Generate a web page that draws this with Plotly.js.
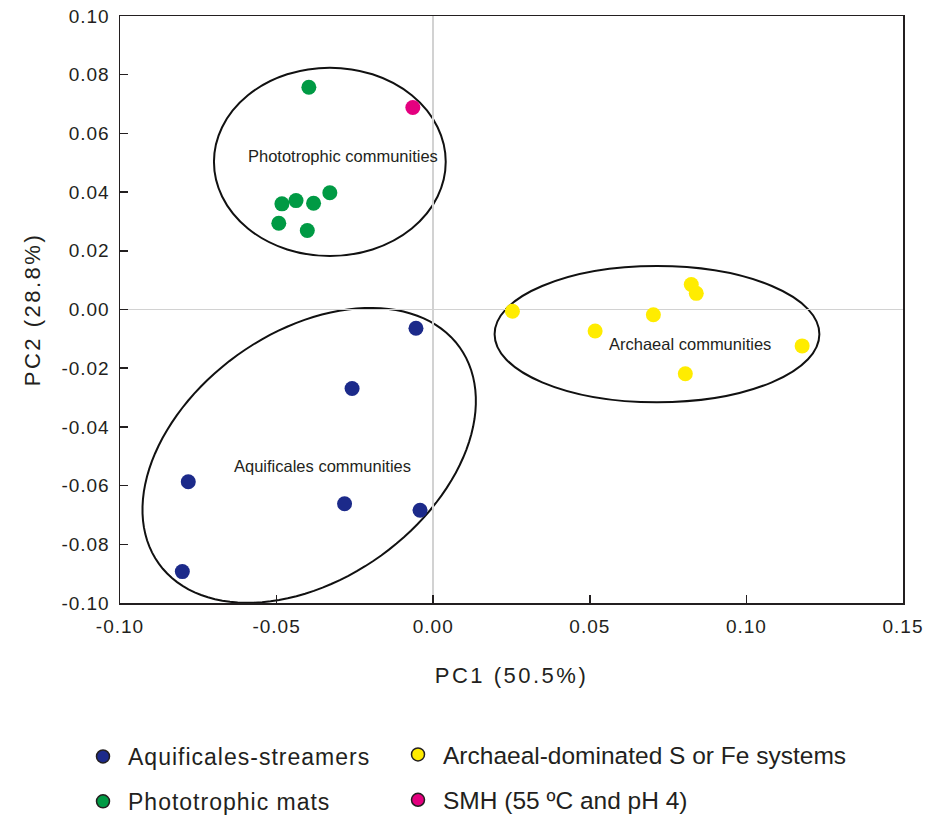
<!DOCTYPE html>
<html>
<head>
<meta charset="utf-8">
<script src="https://cdn.plot.ly/plotly-3.0.1.min.js"></script>
<style>
  html, body { margin: 0; padding: 0; background: #fff; }
  #chart { width: 935px; height: 824px; }
  .xtick text, .ytick text { letter-spacing: 1px; }
  .xtitle, .ytitle { letter-spacing: 2.5px; }
  .legendtext { letter-spacing: 1px; }
</style>
</head>
<body>
<div id="chart"></div>
<script>
// ---- Data ----
const aquX = [-0.0055, -0.0259, -0.0782, -0.0283, -0.0042, -0.0801];
const aquY = [-0.0064, -0.0269, -0.0587, -0.0662, -0.0684, -0.0893];

const archX = [0.0253, 0.0517, 0.0703, 0.0824, 0.0840, 0.1178, 0.0805];
const archY = [-0.0006, -0.0073, -0.0018, 0.0085, 0.0055, -0.0124, -0.0219];

const photoX = [-0.0397, -0.0483, -0.0438, -0.0382, -0.0330, -0.0493, -0.0402];
const photoY = [0.0757, 0.0360, 0.0371, 0.0362, 0.0398, 0.0294, 0.0269];

const smhX = [-0.0065];
const smhY = [0.0688];

const seriesNames = ['Aquificales-streamers', 'Archaeal-dominated S or Fe systems', 'Phototrophic mats', 'SMH (55 ºC and pH 4)'];
const seriesColors = ['#1c2a8a', '#ffec00', '#009a44', '#e4007f'];

const xTickVals = [-0.10, -0.05, 0.00, 0.05, 0.10, 0.15];
const xTickText = ['-0.10', '-0.05', '0.00', '0.05', '0.10', '0.15'];
const yTickVals = [-0.10, -0.08, -0.06, -0.04, -0.02, 0.00, 0.02, 0.04, 0.06, 0.08, 0.10];
const yTickText = ['-0.10', '-0.08', '-0.06', '-0.04', '-0.02', '0.00', '0.02', '0.04', '0.06', '0.08', '0.10'];

// Group ellipses (axis-aligned boxes) and labels
const photoEllipse = [-0.0700, 0.0182, 0.0040, 0.0824];   // x0, y0, x1, y1
const archEllipse  = [0.0196, -0.0316, 0.1233, 0.0148];
// tilted ellipse: centre, conjugate half-axis vectors (data units)
const aquCenter = [-0.0396, -0.0497];
const aquU = [0.0480, 0.0369];
const aquV = [-0.0230, 0.0341];

const labelTexts = ['Phototrophic communities', 'Archaeal communities', 'Aquificales communities'];
const labelX = [-0.0288, 0.0820, -0.0353];
const labelY = [0.0523, -0.0117, -0.0532];

// ---- Build chart ----
const FONT = 'Liberation Sans, Arial, Helvetica, sans-serif';
const INK = '#231f20';

const plotSeries = [[aquX, aquY], [archX, archY], [photoX, photoY], [smhX, smhY]];
const traces = [];
plotSeries.forEach((s, i) => {
  traces.push({
    type: 'scatter', mode: 'markers', x: s[0], y: s[1],
    marker: { size: 15, color: seriesColors[i], line: { width: 0 } },
    showlegend: false, hoverinfo: 'x+y', name: seriesNames[i]
  });
});
// legend entries (outlined symbols as in the reference)
const legendOf = ['legend', 'legend2', 'legend', 'legend2'];
seriesNames.forEach((n, i) => {
  traces.push({
    type: 'scatter', mode: 'markers', x: [null], y: [null],
    name: n, legend: legendOf[i], legendgroup: 'g' + i,
    marker: { size: 13, color: seriesColors[i], line: { width: 1.5, color: INK } }
  });
});

function ellipsePath(c, u, v) {
  let p = '';
  const n = 120;
  for (let k = 0; k <= n; k++) {
    const t = 2 * Math.PI * k / n;
    const x = c[0] + u[0] * Math.cos(t) + v[0] * Math.sin(t);
    const y = c[1] + u[1] * Math.cos(t) + v[1] * Math.sin(t);
    p += (k === 0 ? 'M' : 'L') + x + ',' + y;
  }
  return p + 'Z';
}

const lineStyle = { color: '#111', width: 2 };
const shapes = [
  { type: 'circle', xref: 'x', yref: 'y', x0: photoEllipse[0], y0: photoEllipse[1], x1: photoEllipse[2], y1: photoEllipse[3], line: lineStyle, layer: 'below' },
  { type: 'circle', xref: 'x', yref: 'y', x0: archEllipse[0], y0: archEllipse[1], x1: archEllipse[2], y1: archEllipse[3], line: lineStyle, layer: 'below' },
  { type: 'path', xref: 'x', yref: 'y', path: ellipsePath(aquCenter, aquU, aquV), line: lineStyle, layer: 'below' }
];

const annotations = labelTexts.map((t, i) => ({
  x: labelX[i], y: labelY[i], xref: 'x', yref: 'y', text: t, showarrow: false,
  font: { family: FONT, size: 16.5, color: INK }
}));

const axisCommon = {
  showgrid: false, zeroline: true, zerolinecolor: '#d2d2d2', zerolinewidth: 1.5,
  showline: true, mirror: true, linecolor: INK, linewidth: 1.5,
  ticks: 'inside', ticklen: 8, tickwidth: 1.5, tickcolor: INK,
  tickfont: { family: FONT, size: 19, color: INK },
  tickmode: 'array'
};

const legendCommon = {
  xanchor: 'left', yanchor: 'bottom', orientation: 'v',
  xref: 'paper', yref: 'container',
  font: { family: FONT, size: 23, color: INK }, itemwidth: 40,
  traceorder: 'grouped', tracegroupgap: 12, bgcolor: 'rgba(0,0,0,0)'
};

const layout = {
  width: 935, height: 824,
  margin: { l: 120, r: 32, t: 16, b: 221 },
  paper_bgcolor: '#fff', plot_bgcolor: '#fff',
  font: { family: FONT, color: INK },
  xaxis: Object.assign({}, axisCommon, {
    range: [-0.10, 0.15], tickvals: xTickVals, ticktext: xTickText,
    ticklabelstandoff: 6,
    title: { text: 'PC1 (50.5%)', font: { family: FONT, size: 22, color: INK }, standoff: 31 }
  }),
  yaxis: Object.assign({}, axisCommon, {
    range: [-0.10, 0.10], tickvals: yTickVals, ticktext: yTickText,
    ticklabelstandoff: 5,
    title: { text: 'PC2 (28.8%)', font: { family: FONT, size: 22, color: INK }, standoff: 14 }
  }),
  shapes: shapes,
  annotations: annotations,
  legend: Object.assign({}, legendCommon, { x: (78 - 120) / 783, y: 1 / 824 }),
  legend2: Object.assign({}, legendCommon, {
    x: (393 - 120) / 783, y: 1 / 824, tracegroupgap: 10.5,
    font: { family: FONT, size: 24.5, color: INK }
  }),
  showlegend: true
};

Plotly.newPlot('chart', traces, layout, { displayModeBar: false, staticPlot: true });
</script>
</body>
</html>
